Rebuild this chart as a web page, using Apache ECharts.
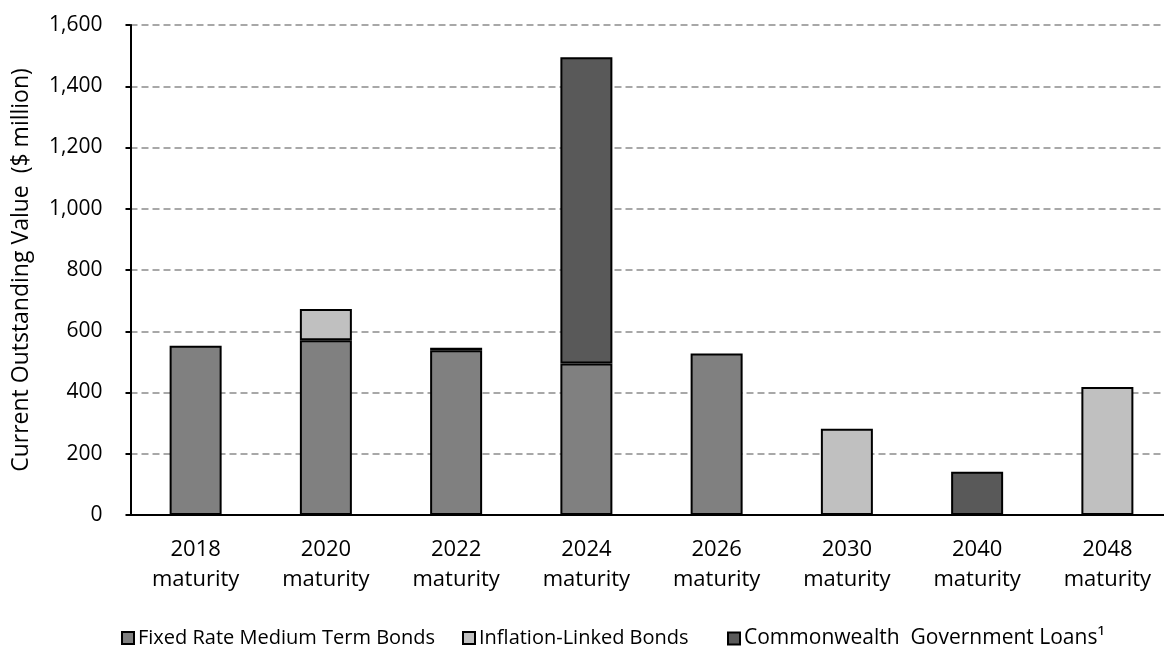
<!DOCTYPE html>
<html>
<head>
<meta charset="utf-8">
<script src="https://cdn.jsdelivr.net/npm/echarts@6/dist/echarts.min.js"></script>
<style>
  html, body { margin: 0; padding: 0; background: #fff; }
  #chart { width: 1164px; height: 648px; }
</style>
</head>
<body>
<div id="chart"></div>
<script>
// Outstanding bonds and loans by maturity year ($ million); '-' marks no holding
const categories = ['2018\nmaturity', '2020\nmaturity', '2022\nmaturity', '2024\nmaturity',
                    '2026\nmaturity', '2030\nmaturity', '2040\nmaturity', '2048\nmaturity'];
const fixedRate     = [553, 571, 538, 495, 527, '-', '-', '-'];
const inflationLink = ['-', 102, '-', '-', '-', 282, '-', 418];
const cwLoans       = ['-', '-', 8, 1000, '-', '-', 141, '-'];
const seriesNames = ['Fixed Rate Medium Term Bonds', 'Inflation-Linked Bonds', 'Commonwealth  Government Loans¹'];
const yTicks = { min: 0, max: 1600, interval: 200 };

const FONT = '"Open Sans", "Noto Sans", sans-serif';
const chart = echarts.init(document.getElementById('chart'));

const barStyle = (color) => ({ color: color, borderColor: '#000', borderWidth: 2 });
const legendAt = (name, left, size) => ({
  left: left, top: 623, icon: 'rect',
  itemWidth: 12, itemHeight: 12, itemGap: 0,
  textStyle: { fontFamily: FONT, fontSize: size, color: '#000', padding: [0, 0, 0, -1] },
  data: [name]
});

chart.setOption({
  animation: false,
  textStyle: { fontFamily: FONT, color: '#000' },
  grid: { left: 130.5, width: 1042, top: 25, bottom: 133, outerBoundsMode: 'none', containLabel: false },
  legend: [
    legendAt(seriesNames[0], 116, 20),
    legendAt(seriesNames[1], 457, 20),
    legendAt(seriesNames[2], 722, 21)
  ],
  xAxis: {
    type: 'category',
    data: categories,
    axisLine: { lineStyle: { color: '#000', width: 2 } },
    axisTick: { inside: true, length: 9, lineStyle: { color: '#000', width: 2 } },
    axisLabel: { fontFamily: FONT, fontSize: 22, color: '#000', lineHeight: 30, margin: 20 }
  },
  yAxis: {
    type: 'value',
    min: yTicks.min, max: yTicks.max, interval: yTicks.interval,
    name: 'Current Outstanding Value  ($ million)',
    nameLocation: 'middle',
    nameGap: 98,
    nameTextStyle: { fontFamily: FONT, fontSize: 23, color: '#000' },
    axisLine: { show: true, lineStyle: { color: '#000', width: 2 } },
    axisTick: { show: true, length: 5, lineStyle: { color: '#000', width: 2 } },
    axisLabel: {
      fontFamily: FONT, fontSize: 21, color: '#000', margin: 28,
      formatter: (v) => v.toLocaleString('en-US')
    },
    splitLine: { show: true, lineStyle: { color: '#8c8c8c', width: 1.6, type: [7, 4] } }
  },
  series: [
    { name: seriesNames[0], type: 'bar', stack: 'total', barWidth: 52,
      itemStyle: barStyle('#808080'), data: fixedRate },
    { name: seriesNames[1], type: 'bar', stack: 'total', barWidth: 52,
      itemStyle: barStyle('#c0c0c0'), data: inflationLink },
    { name: seriesNames[2], type: 'bar', stack: 'total', barWidth: 52,
      itemStyle: barStyle('#595959'), data: cwLoans }
  ]
});
</script>
</body>
</html>
